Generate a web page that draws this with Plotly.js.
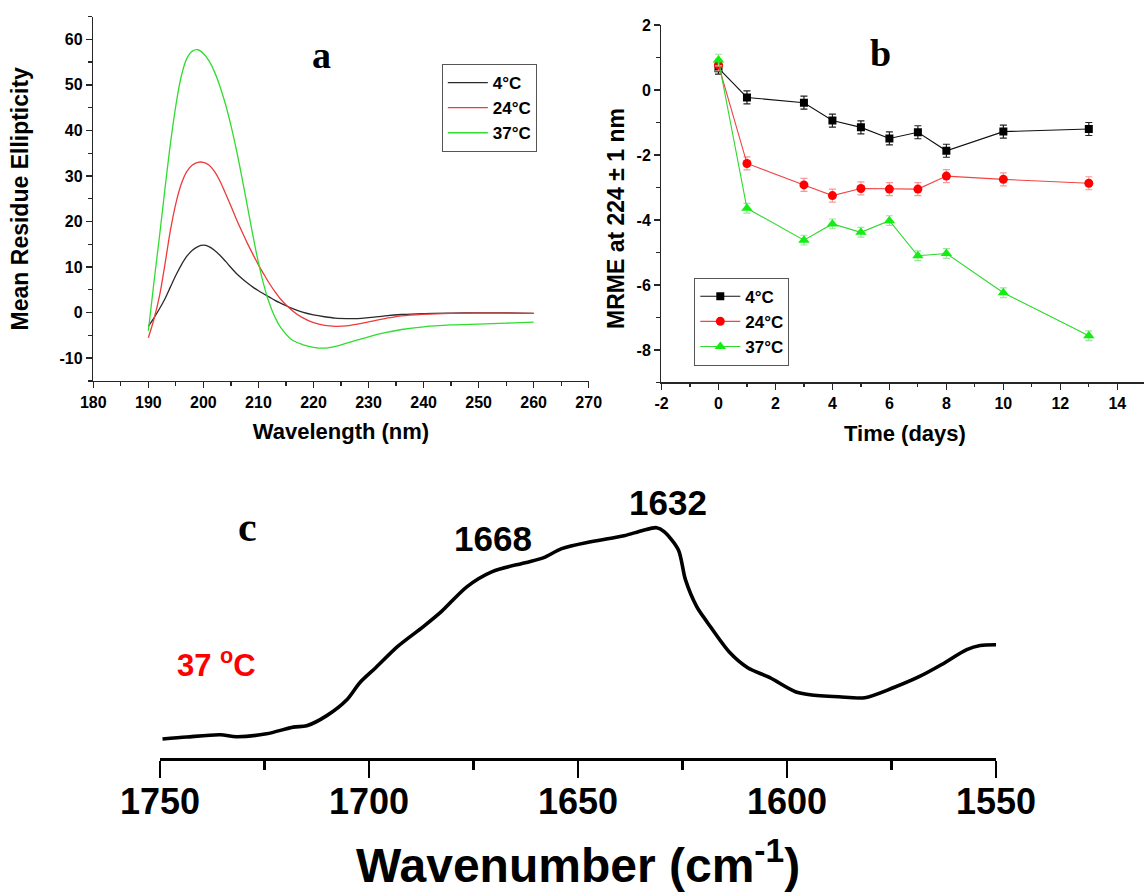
<!DOCTYPE html>
<html>
<head>
<meta charset="utf-8">
<script src="https://cdn.plot.ly/plotly-3.0.1.min.js"></script>
<style>
  html, body { margin: 0; padding: 0; background: #ffffff; }
  #chart { width: 1144px; height: 893px; }
</style>
</head>
<body>
<div id="chart"></div>
<script>
// (a) CD spectra: mean residue ellipticity vs wavelength
const wavelength = [190,191,192,193,194,195,196,197,198,199,200,201,202,203,204,205,206,207,208,209,210,211,212,213,214,216,218,220,222,224,226,228,230,233,236,240,245,250,255,260];
const mre4C  = [-3.0,-1.2,0.8,3.0,5.6,8.2,10.5,12.4,13.7,14.5,14.8,14.5,13.7,12.6,11.3,9.9,8.6,7.5,6.5,5.6,4.8,4.1,3.4,2.7,2.1,1.0,0.1,-0.5,-0.9,-1.2,-1.3,-1.3,-1.1,-0.7,-0.4,-0.2,-0.1,-0.05,-0.05,-0.15];
const mre24C = [-5.5,-1.5,3.5,10.5,18.0,24.0,28.3,31.0,32.4,33.0,33.0,32.4,31.0,28.9,26.2,23.4,20.5,17.8,15.2,12.8,10.5,8.4,6.4,4.6,3.0,0.6,-1.1,-2.2,-2.8,-3.0,-2.9,-2.5,-2.0,-1.3,-0.7,-0.35,-0.15,-0.1,-0.1,-0.15];
const mre37C = [-4.0,6.5,16.5,27.0,37.0,45.5,52.0,55.8,57.4,57.7,56.9,55.3,52.9,49.7,45.8,41.1,35.7,29.7,23.3,16.9,11.0,6.0,2.0,-1.0,-3.2,-5.9,-7.0,-7.6,-7.8,-7.4,-6.7,-6.0,-5.3,-4.4,-3.7,-3.1,-2.7,-2.5,-2.3,-2.1];
const aYTickVals = [-10,0,10,20,30,40,50,60];
const aYTickText = ['-10','0','10','20','30','40','50','60'];

// (b) MRME at 224 nm over time
const days = [0,1,3,4,5,6,7,8,10,13];
const mrme4C  = [0.67,-0.23,-0.39,-0.94,-1.15,-1.49,-1.30,-1.87,-1.28,-1.20];
const mrme24C = [0.77,-2.26,-2.92,-3.25,-3.03,-3.05,-3.05,-2.65,-2.75,-2.87];
const mrme37C = [0.92,-3.64,-4.62,-4.12,-4.38,-4.02,-5.10,-5.03,-6.24,-7.56];
const err4C  = [0.18,0.2,0.2,0.2,0.2,0.2,0.2,0.2,0.2,0.2];
const err24C = [0.18,0.2,0.2,0.2,0.2,0.2,0.2,0.2,0.2,0.2];
const err37C = [0.18,0.15,0.15,0.15,0.15,0.15,0.15,0.15,0.15,0.15];
const bXTickVals = [-2,0,2,4,6,8,10,12,14];
const bXTickText = ['-2','0','2','4','6','8','10','12','14'];
const bYTickVals = [-8,-6,-4,-2,0,2];
const bYTickText = ['-8','-6','-4','-2','0','2'];

// (c) FTIR amide I band at 37 °C
const wavenumber = [1749.4,1743.6,1735.6,1731.7,1724.5,1718.1,1714.9,1710.1,1705.3,1702.2,1698.4,1693.2,1687.0,1682.7,1676.6,1670.5,1662.6,1658.2,1653.9,1646.9,1639.0,1634.7,1631.2,1629.4,1626.0,1624.3,1621.6,1619.0,1613.7,1609.4,1604.1,1598.0,1594.5,1587.6,1581.4,1574.6,1568.4,1563.1,1557.0,1553.8,1550.0];
const absorbance = [0.081,0.090,0.100,0.091,0.104,0.133,0.139,0.183,0.252,0.326,0.391,0.483,0.570,0.635,0.743,0.809,0.848,0.870,0.909,0.939,0.965,0.987,1.000,0.983,0.904,0.774,0.657,0.587,0.457,0.391,0.348,0.287,0.274,0.265,0.261,0.304,0.352,0.404,0.470,0.488,0.491];

const SANS = 'Liberation Sans, Arial, Helvetica, sans-serif';
const SERIF = 'Liberation Serif, Times New Roman, serif';
const AX = '#262626';

const tickFont = {family: SANS, size: 16, color: '#000', weight: 'bold'};
const xTitleFont = {family: SANS, size: 22, color: '#000', weight: 'bold'};
const yTitleFont = {family: SANS, size: 23, color: '#000', weight: 'bold'};
const legendFont = {family: SANS, size: 17, color: '#000', weight: 'bold'};

function axisBase(extra) {
  return Object.assign({
    showline: true, linecolor: AX, linewidth: 1.5,
    ticks: 'outside', ticklen: 6, tickwidth: 1.5, tickcolor: AX,
    showgrid: false, zeroline: false, automargin: false,
    tickfont: tickFont
  }, extra);
}

const traces = [
  {x: wavelength, y: mre4C, name: '4°C', type: 'scatter', mode: 'lines',
   line: {color: '#2a2a2a', width: 1.3, shape: 'spline', smoothing: 1}, xaxis: 'x', yaxis: 'y', legend: 'legend', legendgroup: 'a1'},
  {x: wavelength, y: mre24C, name: '24°C', type: 'scatter', mode: 'lines',
   line: {color: '#ee3a3a', width: 1.3, shape: 'spline', smoothing: 1}, xaxis: 'x', yaxis: 'y', legend: 'legend', legendgroup: 'a2'},
  {x: wavelength, y: mre37C, name: '37°C', type: 'scatter', mode: 'lines',
   line: {color: '#2fdc2f', width: 1.3, shape: 'spline', smoothing: 1}, xaxis: 'x', yaxis: 'y', legend: 'legend', legendgroup: 'a3'},

  {x: days, y: mrme4C, name: '4°C', type: 'scatter', mode: 'lines+markers',
   line: {color: '#111111', width: 1.1}, marker: {symbol: 'square', size: 8, color: '#000000'},
   error_y: {type: 'data', array: err4C, visible: true, color: '#222222', thickness: 1.2, width: 3.5},
   xaxis: 'x2', yaxis: 'y2', legend: 'legend2', legendgroup: 'b1'},
  {x: days, y: mrme24C, name: '24°C', type: 'scatter', mode: 'lines+markers',
   line: {color: '#f04545', width: 1.1}, marker: {symbol: 'circle', size: 9, color: '#ff0000'},
   error_y: {type: 'data', array: err24C, visible: true, color: '#f59a9a', thickness: 1.2, width: 3.5},
   xaxis: 'x2', yaxis: 'y2', legend: 'legend2', legendgroup: 'b2'},
  {x: days, y: mrme37C, name: '37°C', type: 'scatter', mode: 'lines+markers',
   line: {color: '#2fd82f', width: 1.1}, marker: {symbol: 'triangle-up', size: 10, color: '#11ee11'},
   error_y: {type: 'data', array: err37C, visible: true, color: '#9be89b', thickness: 1.2, width: 3.5},
   xaxis: 'x2', yaxis: 'y2', legend: 'legend2', legendgroup: 'b3'},

  {x: wavenumber, y: absorbance, name: '37 °C', type: 'scatter', mode: 'lines',
   line: {color: '#000000', width: 3.6, shape: 'spline', smoothing: 0.8},
   xaxis: 'x3', yaxis: 'y3', showlegend: false}
];

const layout = {
  width: 1144, height: 893,
  margin: {l: 0, r: 0, t: 0, b: 0},
  paper_bgcolor: '#ffffff', plot_bgcolor: 'rgba(0,0,0,0)',
  font: {family: SANS, color: '#000'},

  xaxis: axisBase({
    domain: [0.08156, 0.51460], range: [180, 270], anchor: 'y',
    tick0: 180, dtick: 10,
    minor: {tick0: 180, dtick: 5, ticks: 'outside', ticklen: 3.5, tickwidth: 1.2, tickcolor: AX},
    title: {text: 'Wavelength (nm)', font: xTitleFont, standoff: 14}
  }),
  yaxis: axisBase({
    domain: [0.57335, 0.98152], range: [-15, 65], anchor: 'x',
    tickmode: 'array', tickvals: aYTickVals, ticktext: aYTickText,
    minor: {tick0: 0, dtick: 5, ticks: 'outside', ticklen: 3.5, tickwidth: 1.2, tickcolor: AX},
    title: {text: 'Mean Residue Ellipticity', font: yTitleFont, standoff: 24}
  }),

  xaxis2: axisBase({
    domain: [0.57823, 1.0], range: [-2, 14.937], anchor: 'y2',
    tickmode: 'array', tickvals: bXTickVals, ticktext: bXTickText,
    minor: {tick0: 0, dtick: 1, ticks: 'outside', ticklen: 3.5, tickwidth: 1.2, tickcolor: AX}
  }),
  yaxis2: axisBase({
    domain: [0.57167, 0.97200], range: [-9, 2], anchor: 'x2',
    tickmode: 'array', tickvals: bYTickVals, ticktext: bYTickText,
    minor: {tick0: 0, dtick: 1, ticks: 'outside', ticklen: 3.5, tickwidth: 1.2, tickcolor: AX}
  }),

  xaxis3: {
    domain: [0.13986, 0.87063], range: [1750, 1550], anchor: 'y3',
    showline: true, linecolor: '#000', linewidth: 3,
    ticks: 'outside', ticklen: 17, tickwidth: 2.5, tickcolor: '#000',
    tick0: 1550, dtick: 50,
    minor: {tick0: 1550, dtick: 25, ticks: 'outside', ticklen: 9, tickwidth: 2.5, tickcolor: '#000'},
    showgrid: false, zeroline: false, automargin: false,
    ticklabelstandoff: -7,
    tickfont: {family: SANS, size: 36, color: '#000', weight: 'bold'}
  },
  yaxis3: {domain: [0.15151, 0.46058], range: [0, 1.2], anchor: 'x3', visible: false},

  legend: {
    x: 0.3862, y: 0.92833, xanchor: 'left', yanchor: 'top',
    bgcolor: '#ffffff', bordercolor: '#555555', borderwidth: 1,
    font: legendFont, itemwidth: 40,
    tracegroupgap: 0, traceorder: 'grouped'
  },
  legend2: {
    x: 0.60691, y: 0.68902, xanchor: 'left', yanchor: 'top',
    bgcolor: '#ffffff', bordercolor: '#555555', borderwidth: 1,
    font: legendFont, itemwidth: 40,
    tracegroupgap: 0, traceorder: 'grouped'
  },

  annotations: [
    {text: 'a', xref: 'paper', yref: 'paper', x: 0.2806, y: 0.93841, showarrow: false,
     xanchor: 'center', yanchor: 'middle', font: {family: SERIF, size: 38, color: '#000', weight: 'bold'}},
    {text: 'b', xref: 'paper', yref: 'paper', x: 0.77010, y: 0.94065, showarrow: false,
     xanchor: 'center', yanchor: 'middle', font: {family: SERIF, size: 38, color: '#000', weight: 'bold'}},
    {text: 'c', xref: 'paper', yref: 'paper', x: 0.21652, y: 0.41019, showarrow: false,
     xanchor: 'center', yanchor: 'middle', font: {family: SERIF, size: 42, color: '#000', weight: 'bold'}},
    {text: 'MRME at 224 ± 1 nm', xref: 'paper', yref: 'paper', x: 0.53846, y: 0.75588, textangle: -90,
     showarrow: false, xanchor: 'center', yanchor: 'middle', font: yTitleFont},
    {text: 'Time (days)', xref: 'paper', yref: 'paper', x: 0.79073, y: 0.51400,
     showarrow: false, xanchor: 'center', yanchor: 'middle', font: xTitleFont},
    {text: 'Wavenumber (cm<sup>-1</sup>)', xref: 'paper', yref: 'paper', x: 0.50490, y: 0.0345,
     showarrow: false, xanchor: 'center', yanchor: 'middle',
     font: {family: SANS, size: 48, color: '#000', weight: 'bold'}},
    {text: '1668', xref: 'paper', yref: 'paper', x: 0.43051, y: 0.39642, showarrow: false,
     xanchor: 'center', yanchor: 'middle', font: {family: SANS, size: 35, color: '#000', weight: 'bold'}},
    {text: '1632', xref: 'paper', yref: 'paper', x: 0.58357, y: 0.43729, showarrow: false,
     xanchor: 'center', yanchor: 'middle', font: {family: SANS, size: 35, color: '#000', weight: 'bold'}},
    {text: '37 <sup>o</sup>C', xref: 'paper', yref: 'paper', x: 0.18942, y: 0.25756, showarrow: false,
     xanchor: 'center', yanchor: 'middle', font: {family: SANS, size: 31, color: '#ff0000', weight: 'bold'}}
  ]
};

Plotly.newPlot('chart', traces, layout, {displayModeBar: false, staticPlot: true});
</script>
</body>
</html>
